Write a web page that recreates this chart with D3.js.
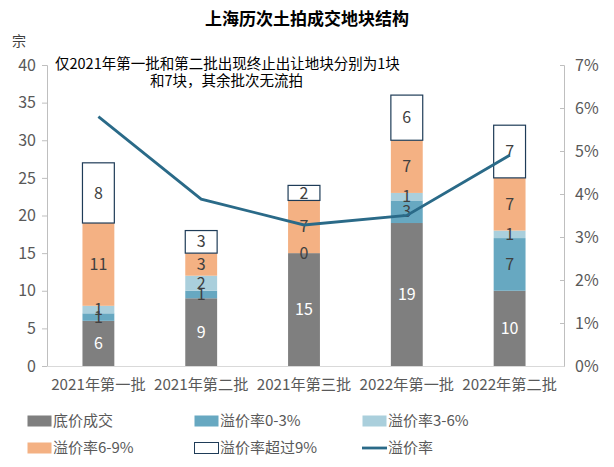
<!DOCTYPE html>
<html><head><meta charset="utf-8">
<script src="https://cdn.jsdelivr.net/npm/d3@7"></script>
<style>body{margin:0;background:#fff}svg{display:block}text{font-family:"Noto Sans CJK SC","Microsoft YaHei",sans-serif}</style>
</head><body><div id="chart"></div>
<script>
const categories = ["2021年第一批","2021年第二批","2021年第三批","2022年第一批","2022年第二批"];
const seriesNames = ["底价成交","溢价率0-3%","溢价率3-6%","溢价率6-9%","溢价率超过9%"];
const base = [6, 9, 15, 19, 10];
const p0to3 = [1, 1, 0, 3, 7];
const p3to6 = [1, 2, null, 1, 1];
const p6to9 = [11, 3, 7, 7, 7];
const pOver9 = [8, 3, 2, 6, 7];
const premiumRate = [0.058, 0.0388, 0.0328, 0.035, 0.049];
const leftTicks = [0,5,10,15,20,25,30,35,40];
const rightTicks = [0,0.01,0.02,0.03,0.04,0.05,0.06,0.07];

const colors = ["#7f7f7f","#67a8c1","#aacfdc","#f4b183","#ffffff"];
const labelColors = ["#ffffff","#404040","#404040","#404040","#404040"];
const lineColor = "#2a6a88";
const borderColor = "#1f3c58";

const W=614,H=467;
const svg=d3.select("#chart").append("svg").attr("width",W).attr("height",H);
const x=d3.scaleBand().domain(categories).range([47,561]).paddingInner(0.69).paddingOuter(0.345);
const y=d3.scaleLinear().domain([0,40]).range([366,65]);
const y2=d3.scaleLinear().domain([0,0.07]).range([366,65]);

svg.append("text").attr("x",307).attr("y",25).attr("text-anchor","middle").attr("font-size",17).attr("font-weight","bold").attr("fill","#000").text("上海历次土拍成交地块结构");
svg.append("text").attr("x",19).attr("y",46).attr("text-anchor","middle").attr("font-size",14).attr("fill","#404040").text("宗");

// axes
const gl=svg.append("g").attr("transform","translate(47,0)").call(d3.axisLeft(y).tickValues(leftTicks).tickSize(5).tickPadding(6));
gl.selectAll("path,line").attr("stroke","#bfbfbf");
gl.selectAll("text").attr("font-size",16).attr("fill","#595959");
const gr=svg.append("g").attr("transform","translate(564,0)").call(d3.axisRight(y2).tickValues(rightTicks).tickFormat(d3.format(".0%")).tickSize(-4).tickPadding(11));
gr.selectAll("path,line").attr("stroke","#bfbfbf");
gr.selectAll("text").attr("font-size",16).attr("fill","#595959");
const gb=svg.append("g").attr("transform","translate(0,366)").call(d3.axisBottom(x).tickSize(0).tickPadding(13));
gb.select("path").attr("d","M47,0.5H564").attr("stroke","#d9d9d9");
gb.selectAll("text").attr("font-size",15.2).attr("fill","#595959");

// stacked bars
const table=categories.map((c,i)=>({cat:c,vals:[base[i],p0to3[i],p3to6[i],p6to9[i],pOver9[i]]}));
table.forEach(d=>{
  let acc=0;
  d.vals.forEach((v,k)=>{
    if(v===null) return;
    const y0=acc, y1=acc+v; acc=y1;
    if(v>0){
      svg.append("rect").attr("x",x(d.cat)).attr("width",x.bandwidth())
        .attr("y",y(y1)).attr("height",y(y0)-y(y1)).attr("fill",colors[k])
        .attr("stroke",k===4?borderColor:"none").attr("stroke-width",k===4?1.2:0);
    }
  });
});
table.forEach(d=>{
  let acc=0;
  d.vals.forEach((v,k)=>{
    if(v===null) return;
    const y0=acc, y1=acc+v; acc=y1;
    svg.append("text").attr("x",x(d.cat)+x.bandwidth()/2).attr("y",y((y0+y1)/2)).attr("dy","0.35em")
      .attr("text-anchor","middle").attr("font-size",16).attr("fill",labelColors[k]).text(v);
  });
});

// line
const line=d3.line().x((d,i)=>x(categories[i])+x.bandwidth()/2).y(d=>y2(d));
svg.append("path").datum(premiumRate).attr("d",line).attr("fill","none").attr("stroke",lineColor).attr("stroke-width",2.8);

// annotation
svg.append("text").attr("x",55).attr("y",69).attr("font-size",14.5).attr("fill","#000").text("仅2021年第一批和第二批出现终止出让地块分别为1块");
svg.append("text").attr("x",150).attr("y",86).attr("font-size",14.5).attr("fill","#000").text("和7块，其余批次无流拍");

// legend
const legendItems=[
  {name:seriesNames[0],type:"rect",k:0,x:27,y:421},
  {name:seriesNames[1],type:"rect",k:1,x:194,y:421},
  {name:seriesNames[2],type:"rect",k:2,x:362,y:421},
  {name:seriesNames[3],type:"rect",k:3,x:27,y:448},
  {name:seriesNames[4],type:"rect",k:4,x:194,y:448},
  {name:"溢价率",type:"line",x:362,y:448}
];
legendItems.forEach(it=>{
  if(it.type==="rect"){
    svg.append("rect").attr("x",it.x+0.5).attr("y",it.y-5.5).attr("width",24).attr("height",11)
      .attr("fill",colors[it.k]).attr("stroke",it.k===4?borderColor:"none");
  } else {
    svg.append("line").attr("x1",it.x).attr("x2",it.x+25).attr("y1",it.y).attr("y2",it.y).attr("stroke",lineColor).attr("stroke-width",2.8);
  }
  svg.append("text").attr("x",it.x+26).attr("y",it.y).attr("dy","0.35em").attr("font-size",15).attr("fill","#595959").text(it.name);
});
</script></body></html>
